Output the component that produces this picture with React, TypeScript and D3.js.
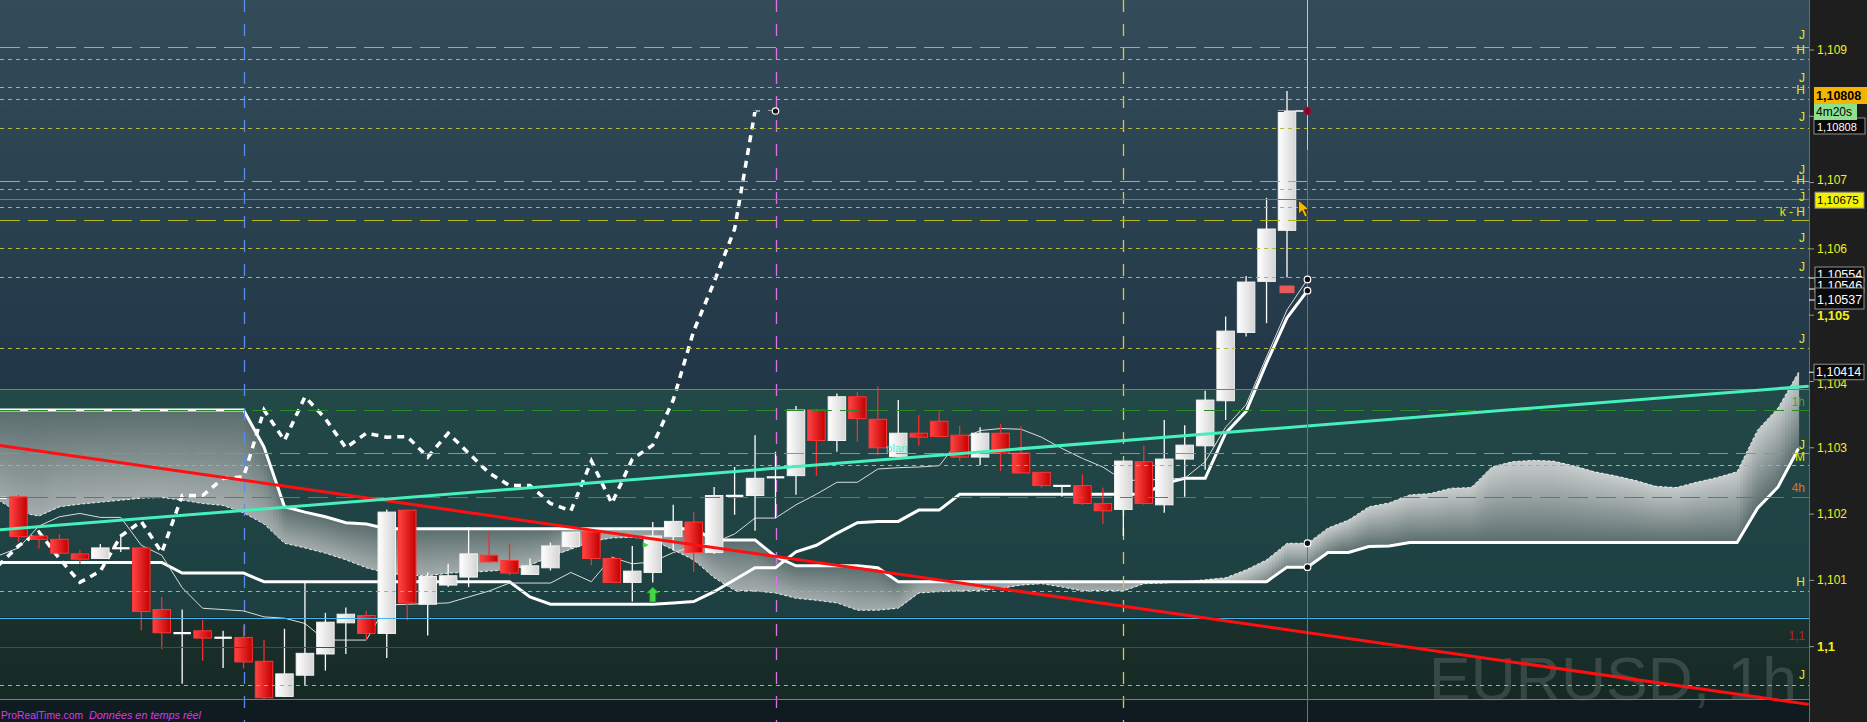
import * as d3 from "d3";

const WIDTH = 1867;
const HEIGHT = 722;
const PLOT_RIGHT = 1809;

// EURUSD 1h, bar 0 = partly cut at the left edge, bar 63 = last bar
const opens = [
  1.10223, 1.10226, 1.10167, 1.10162, 1.1014, 1.10133, 1.10148, 1.10149, 1.10056, 1.1002,
  1.10024, 1.10013, 1.10014, 1.09978, 1.09925, 1.09957, 1.09989, 1.10036, 1.10047, 1.1002,
  1.10206, 1.10064, 1.10093, 1.10105, 1.10138, 1.1013, 1.10109, 1.10119, 1.10151, 1.10173,
  1.10133, 1.10097, 1.10112, 1.10166, 1.10188, 1.10142, 1.10227, 1.10228, 1.10255, 1.10258,
  1.10357, 1.10311, 1.10377, 1.10343, 1.10287, 1.10322, 1.1034, 1.10319, 1.10286, 1.10322,
  1.10292, 1.10263, 1.10242, 1.10243, 1.10216, 1.10207, 1.10279, 1.10214, 1.10283, 1.10303,
  1.10371, 1.10474, 1.10551, 1.10628,
];
const highs = [
  1.10229, 1.10229, 1.10169, 1.1017, 1.10146, 1.10155, 1.10167, 1.10149, 1.10075, 1.10056,
  1.10041, 1.10024, 1.10033, 1.1001, 1.10027, 1.10097, 1.10051, 1.10059, 1.10054, 1.10207,
  1.10206, 1.10112, 1.10125, 1.1018, 1.10173, 1.10155, 1.10133, 1.10157, 1.10173, 1.10173,
  1.10137, 1.10152, 1.10188, 1.10214, 1.10203, 1.10241, 1.10271, 1.10319, 1.10294, 1.10363,
  1.10359, 1.10382, 1.10384, 1.10393, 1.10372, 1.10349, 1.10355, 1.10333, 1.10331, 1.10336,
  1.10333, 1.10263, 1.10243, 1.1026, 1.1024, 1.1028, 1.10303, 1.10342, 1.10334, 1.10386,
  1.10498, 1.10559, 1.10677, 1.10838,
];
const lows = [
  1.1022, 1.10158, 1.10148, 1.10136, 1.10125, 1.10133, 1.10143, 1.10025, 1.09996, 1.09944,
  1.09979, 1.09968, 1.09967, 1.09921, 1.09924, 1.09942, 1.09964, 1.09989, 1.1001, 1.09983,
  1.1004, 1.10017, 1.1009, 1.1009, 1.10127, 1.10108, 1.10109, 1.10115, 1.10148, 1.10123,
  1.10097, 1.10068, 1.10097, 1.10145, 1.10113, 1.1014, 1.10199, 1.10175, 1.10194, 1.10229,
  1.10258, 1.10294, 1.10309, 1.10289, 1.10286, 1.10303, 1.10316, 1.1028, 1.10274, 1.10265,
  1.10262, 1.1024, 1.10226, 1.10214, 1.10185, 1.10167, 1.10214, 1.10202, 1.10226, 1.10267,
  1.10342, 1.10468, 1.10488, 1.10557,
];
const closes = [
  1.10226, 1.10166, 1.10162, 1.10141, 1.10132, 1.10149, 1.10149, 1.10053, 1.10021, 1.10021,
  1.10013, 1.10014, 1.09977, 1.09923, 1.09959, 1.0999, 1.10037, 1.10049, 1.1002, 1.10203,
  1.10066, 1.10106, 1.10107, 1.1014, 1.10128, 1.10111, 1.10122, 1.10152, 1.10173, 1.10133,
  1.10097, 1.10114, 1.10167, 1.10189, 1.10142, 1.10228, 1.10228, 1.10254, 1.10256, 1.10357,
  1.10311, 1.10377, 1.10344, 1.103, 1.10322, 1.10316, 1.10317, 1.10286, 1.10322, 1.10292,
  1.10262, 1.10243, 1.10243, 1.10216, 1.10205, 1.1028, 1.10216, 1.10283, 1.10304, 1.10372,
  1.10476, 1.1055, 1.1063, 1.10808,
];

// Ichimoku lines (bars 0..64)
const tenkan = [
  1.10137, 1.10149, 1.10182, 1.10196, 1.10201, 1.10195, 1.10195, 1.10153, 1.10138, 1.10089,
  1.10058, 1.10056, 1.10054, 1.10045, 1.10043, 1.10035, 1.1001, 1.1001, 1.1001, 1.10063,
  1.10064, 1.10065, 1.10066, 1.10075, 1.10084, 1.10096, 1.10096, 1.10096, 1.10112, 1.10098,
  1.10135, 1.10125, 1.10128, 1.10142, 1.10151, 1.10157, 1.1017, 1.10194, 1.10194, 1.10214,
  1.1023, 1.10248, 1.10248, 1.10268, 1.1027, 1.10271, 1.10273, 1.10312, 1.10326, 1.10329,
  1.10328, 1.10316, 1.10299, 1.10284, 1.10271, 1.10251, 1.10251, 1.10253, 1.10254, 1.10279,
  1.10331, 1.10365, 1.10437, 1.10508, 1.10554,
];
const kijun = [
  1.10127, 1.10127, 1.10127, 1.10127, 1.10127, 1.10127, 1.10127, 1.10127, 1.10127, 1.10111,
  1.10111, 1.10111, 1.10111, 1.10098, 1.10098, 1.10098, 1.10098, 1.10098, 1.10098, 1.10098,
  1.10098, 1.10098, 1.10098, 1.10098, 1.10098, 1.10098, 1.10075, 1.10064, 1.10064, 1.10064,
  1.10064, 1.10064, 1.10064, 1.10066, 1.10068, 1.10083, 1.10101, 1.10119, 1.10119, 1.10143,
  1.10153, 1.10171, 1.10187, 1.10189, 1.10189, 1.10206, 1.10206, 1.1023, 1.1023, 1.1023,
  1.1023, 1.1023, 1.1023, 1.1023, 1.1023, 1.1023, 1.1023, 1.10246, 1.10254, 1.10254,
  1.10322, 1.10355, 1.10428, 1.10496, 1.10537,
];
// cloud spans, bars 0..88 (26 bars projected ahead)
const senkouA = [
  1.10221, 1.10203, 1.10197, 1.10211, 1.10215, 1.10218, 1.10221, 1.10224, 1.10225, 1.10221,
  1.10216, 1.10213, 1.10202, 1.10185, 1.10156, 1.10149, 1.10141, 1.10131, 1.10119, 1.10111,
  1.10108, 1.10107, 1.10111, 1.10112, 1.10114, 1.10116, 1.10123, 1.10136, 1.10147, 1.10159,
  1.10164, 1.10165, 1.10161, 1.10146, 1.10131, 1.10104, 1.10085, 1.10084, 1.10081, 1.10073,
  1.1007, 1.10066, 1.10055, 1.10055, 1.10058, 1.10081, 1.10083, 1.10084, 1.10085, 1.10088,
  1.10093, 1.10095, 1.1009, 1.10084, 1.10085, 1.10084, 1.10095, 1.10096, 1.10098, 1.10101,
  1.10104, 1.10116, 1.10131, 1.10156, 1.10156, 1.10179, 1.10191, 1.10211, 1.10217, 1.10229,
  1.10231, 1.10239, 1.1024, 1.10271, 1.10279, 1.10281, 1.1028, 1.10273, 1.10264, 1.10258,
  1.10251, 1.10242, 1.1024, 1.10248, 1.10255, 1.10264, 1.10327, 1.1036, 1.10414,
];
const senkouB = [
  1.10357, 1.10357, 1.10357, 1.10357, 1.10357, 1.10357, 1.10357, 1.10357, 1.10357, 1.10357,
  1.10357, 1.10357, 1.10357, 1.10301, 1.10211, 1.10203, 1.10196, 1.10187, 1.10185, 1.10178,
  1.10178, 1.10178, 1.10178, 1.10178, 1.10178, 1.10178, 1.10178, 1.10178, 1.10178, 1.10178,
  1.10178, 1.10178, 1.10178, 1.10178, 1.10178, 1.10161, 1.10161, 1.10161, 1.10136, 1.10122,
  1.10122, 1.10122, 1.10122, 1.10119, 1.10098, 1.10098, 1.10098, 1.10098, 1.10098, 1.10098,
  1.10098, 1.10098, 1.10098, 1.10098, 1.10098, 1.10098, 1.10098, 1.10098, 1.10098, 1.10098,
  1.10098, 1.10098, 1.10098, 1.1012, 1.1012, 1.10142, 1.10142, 1.10151, 1.10152, 1.10157,
  1.10157, 1.10157, 1.10157, 1.10157, 1.10157, 1.10157, 1.10157, 1.10157, 1.10157, 1.10157,
  1.10157, 1.10157, 1.10157, 1.10157, 1.10157, 1.10157, 1.10209, 1.10241, 1.10299,
];
// lagging span, bars 0..37
const chikou = [
  1.10122, 1.10152, 1.10173, 1.10133, 1.10097, 1.10114, 1.10167, 1.10189, 1.10142, 1.10228,
  1.10228, 1.10254, 1.10256, 1.10357, 1.10311, 1.10377, 1.10344, 1.103, 1.10322, 1.10316,
  1.10317, 1.10286, 1.10322, 1.10292, 1.10262, 1.10243, 1.10243, 1.10216, 1.10205, 1.1028,
  1.10216, 1.10283, 1.10304, 1.10372, 1.10476, 1.1055, 1.1063, 1.10808,
];

const lastPrice = 1.10808;
const cursorPrice = 1.10675;
const cloudEndPrice = 1.10414;

// drawn levels
const longDashLevels = [1.10905, 1.10703, 1.10644];
const shortDashLevels = [
  1.10886, 1.10844, 1.10826, 1.10783, 1.10691, 1.10663, 1.10602, 1.10558, 1.1045, 1.10274,
  1.10084, 1.09942,
];
const olivePivot = 1.10292;
const greenLevels = [1.10389, 1.09921];
const greenDashLevel = 1.10357;
const orangeDashLevel = 1.10226;
const blueLevel = 1.10044;
const redLevel = 1.1;

const yellowTags: [string, number][] = [
  ["J", 1.10923], ["H", 1.109], ["J", 1.10858], ["H", 1.1084], ["J", 1.10799],
  ["J", 1.10719], ["H", 1.10704], ["J", 1.10678], ["k - H", 1.10656], ["J", 1.10616],
  ["J", 1.10573], ["J", 1.10464], ["J", 1.10304], ["M", 1.10286], ["H", 1.10098],
  ["J", 1.09957],
];
const greenTags: [string, number][] = [["1h", 1.10369]];
const orangeTags: [string, number][] = [["4h", 1.10239]];
const redTags: [string, number][] = [["1,1", 1.10016]];

// trend lines [bar, price]
const planTrend: [number, number][] = [[0, 1.10176], [88.5, 1.10393]];
const downTrend: [number, number][] = [[0, 1.10304], [88.5, 1.09913]];

const sessionBreaks = [12, 38, 55];
const sessionColors = ["#5a8cf0", "#e070e8", "#e8c040"];

// 1,108 sits under the value boxes and is not shown
const priceTicks = [1.109, 1.107, 1.106, 1.105, 1.104, 1.103, 1.102, 1.101, 1.1];
const hiddenTicks = [1.108];
const boldTicks = [1.105, 1.1];
const stackedValues = ["1,10554", "1,10546", "1,10537"];

const signalUpBar = 32;
const signalUpPrice = 1.1009;
const markerBar = 63;
const markerPrice = 1.10539;

const FONT = "'Liberation Sans', Arial, sans-serif";

export default function App() {
  const x = d3.scaleLinear().domain([0, 88]).range([-1.96, 1798.5]);
  const y = d3.scaleLinear().domain([1.1, 1.109]).range([646.7, 50]);
  const bodyW = 17.5;
  const comma = (p: number) => d3.format("~g")(p).replace(".", ",");

  const path = (vals: number[]) =>
    d3.line<number>().x((_, i) => x(i)).y((d) => y(d))(vals) ?? "";
  const trend = (pts: [number, number][]) =>
    d3.line<[number, number]>().x((d) => x(d[0])).y((d) => y(d[1]))(pts) ?? "";

  // cloud fill: thin vertical strips, each shaded from span A (light) towards span B (dark)
  const yAt = (arr: number[], px: number) => {
    const t = Math.max(0, Math.min(x.invert(px), arr.length - 1));
    const i = Math.min(Math.floor(t), arr.length - 2);
    const f = t - i;
    return y(arr[i] + (arr[i + 1] - arr[i]) * f);
  };
  const stripW = 3;
  const cloudStart = Math.max(0, x(0));
  const cloudEnd = x(senkouA.length - 1);
  const strips = d3.range(cloudStart, cloudEnd, stripW).map((sx, k) => {
    const ex = Math.min(sx + stripW, cloudEnd);
    const a0 = yAt(senkouA, sx), a1 = yAt(senkouA, ex);
    const b0 = yAt(senkouB, sx), b1 = yAt(senkouB, ex);
    const am = (a0 + a1) / 2, bm = (b0 + b1) / 2;
    const dir = bm >= am ? 1 : -1;
    const span = Math.max(Math.abs(bm - am), 30);
    const ex2 = ex + 0.6;
    return {
      k,
      bull: dir > 0,
      d: `M${sx},${a0}L${ex2},${a1}L${ex2},${b1}L${sx},${b0}Z`,
      g1: am,
      g2: am + dir * span,
    };
  });

  const hline = (p: number, stroke: string, dash?: string, w = 1, key?: string) => (
    <line key={key ?? `${p}-${stroke}`} x1={0} x2={PLOT_RIGHT} y1={Math.round(y(p)) + 0.5} y2={Math.round(y(p)) + 0.5}
      stroke={stroke} strokeWidth={w} strokeDasharray={dash} />
  );

  const tag = (t: [string, number], fill: string, k: string) => (
    <text key={k} x={1805} y={y(t[1])} fill={fill} fontSize={12} textAnchor="end"
      dominantBaseline="central" fontFamily={FONT}>{t[0]}</text>
  );

  const lastX = x(64);
  const yLast = y(lastPrice);

  return (
    <svg width={WIDTH} height={HEIGHT} style={{ position: "fixed", left: 0, top: 0, background: "#1e1e1e" }}>
      <defs>
        <clipPath id="plot"><rect x={0} y={0} width={PLOT_RIGHT} height={HEIGHT} /></clipPath>
        <linearGradient id="bgTop" x1="0" y1="0" x2="0" y2="1">
          <stop offset="0" stopColor="#344c59" />
          <stop offset="1" stopColor="#213747" />
        </linearGradient>
        <linearGradient id="bgMid" x1="0" y1="0" x2="0" y2="1">
          <stop offset="0" stopColor="#234848" />
          <stop offset="1" stopColor="#1d3f41" />
        </linearGradient>
        <linearGradient id="bgLow" x1="0" y1="0" x2="0" y2="1">
          <stop offset="0" stopColor="#1a302b" />
          <stop offset="1" stopColor="#162925" />
        </linearGradient>
        <linearGradient id="upBody" x1="0" y1="0" x2="1" y2="0">
          <stop offset="0" stopColor="#ffffff" />
          <stop offset="1" stopColor="#d4d4d4" />
        </linearGradient>
        <linearGradient id="downBody" x1="0" y1="0" x2="1" y2="0">
          <stop offset="0" stopColor="#ff4444" />
          <stop offset="1" stopColor="#c40000" />
        </linearGradient>
        {strips.map((s) => (
          <linearGradient key={s.k} id={`cl${s.k}`} gradientUnits="userSpaceOnUse" x1={0} x2={0} y1={s.g1} y2={s.g2}>
            <stop offset="0" stopColor={s.bull ? "#c8cccc" : "#a4acac"} />
            <stop offset="1" stopColor="#5a6d6d" />
          </linearGradient>
        ))}
      </defs>

      <g clipPath="url(#plot)">
        {/* background zones */}
        <rect x={0} y={0} width={PLOT_RIGHT} height={y(greenLevels[0])} fill="url(#bgTop)" />
        <rect x={0} y={y(greenLevels[0])} width={PLOT_RIGHT} height={y(blueLevel) - y(greenLevels[0])} fill="url(#bgMid)" />
        <rect x={0} y={y(blueLevel)} width={PLOT_RIGHT} height={y(greenLevels[1]) - y(blueLevel)} fill="url(#bgLow)" />
        <rect x={0} y={y(greenLevels[1])} width={PLOT_RIGHT} height={HEIGHT - y(greenLevels[1])} fill="#0f1a21" />

        <text x={1797} y={700} textAnchor="end" fontSize={62} fontFamily={FONT} fill="#ffffff" fillOpacity={0.14}
          textLength={368} lengthAdjust="spacingAndGlyphs">
          EURUSD, 1h
        </text>

        {/* cloud */}
        {strips.map((s) => <path key={s.k} d={s.d} fill={`url(#cl${s.k})`} />)}
        <path d={path(senkouA)} fill="none" stroke="#ffffff" strokeWidth={1} strokeDasharray="3,2" strokeOpacity={0.85} />
        <path d={path(senkouB)} fill="none" stroke="#ffffff" strokeWidth={3} />

        {sessionBreaks.map((b, k) => (
          <line key={b} x1={Math.round(x(b)) + 0.5} x2={Math.round(x(b)) + 0.5} y1={0} y2={HEIGHT}
            stroke={sessionColors[k]} strokeWidth={1.3} strokeDasharray="12,12" />
        ))}

        {/* ichimoku lines */}
        <path d={path(kijun)} fill="none" stroke="#ffffff" strokeWidth={3} />
        <path d={path(tenkan)} fill="none" stroke="#dcdcdc" strokeWidth={1} />
        <path d={path(chikou)} fill="none" stroke="#ffffff" strokeWidth={3.5} strokeDasharray="7,6" />
        <line x1={x(37)} x2={x(38)} y1={yLast} y2={yLast} stroke="#ffffff" strokeWidth={1} strokeDasharray="5,8" />

        {/* candles */}
        {opens.map((o, i) => {
          const c = closes[i];
          const up = c >= o;
          const cx = x(i);
          const top = y(Math.max(o, c));
          const bot = y(Math.min(o, c));
          const doji = bot - top < 2.2;
          return (
            <g key={i}>
              <line x1={cx} x2={cx} y1={y(highs[i])} y2={y(lows[i])} stroke={up ? "#ffffff" : "#ee3030"} strokeWidth={1.3} />
              {doji ? (
                <line x1={cx - bodyW / 2} x2={cx + bodyW / 2} y1={(top + bot) / 2} y2={(top + bot) / 2} stroke="#ffffff" strokeWidth={2.2} />
              ) : (
                <rect x={cx - bodyW / 2} y={top} width={bodyW} height={bot - top}
                  fill={up ? "url(#upBody)" : "url(#downBody)"} stroke={up ? "#f2f2f2" : "#ff3636"} strokeWidth={1} />
              )}
            </g>
          );
        })}

        {/* levels, drawn over price */}
        {longDashLevels.map((p) => hline(p, "#b4b818", "20,8"))}
        {shortDashLevels.map((p) => hline(p, "#b6b83c", "4,4"))}
        {hline(olivePivot, "#93a03a", "20,8")}
        {hline(lastPrice, "#a0102e", "12,12")}
        {greenLevels.map((p) => hline(p, "#2cb42c"))}
        {hline(greenDashLevel, "#2a8a2a", "20,8")}
        {hline(orangeDashLevel, "#9a6248", "20,8")}
        {hline(blueLevel, "#46b4e6")}
        {hline(redLevel, "#d01010")}

        <text x={886} y={452} fill="#3ee6b4" fontSize={11.5} fontFamily={FONT} fillOpacity={0.85}>plan</text>

        {/* trend lines */}
        <path d={trend(downTrend)} stroke="#ff1010" strokeWidth={3} fill="none" />
        <path d={trend(planTrend)} stroke="#45f0bc" strokeWidth={3} fill="none" />

        {/* signals */}
        {(() => {
          const ax = x(signalUpBar), ay = y(signalUpPrice);
          return (
            <g>
              <path d={`M${ax},${ay}L${ax + 6},${ay + 6}L${ax + 3},${ay + 6}L${ax + 3},${ay + 15}L${ax - 3},${ay + 15}L${ax - 3},${ay + 6}L${ax - 6},${ay + 6}Z`}
                fill="#44d844" stroke="#1f8a1f" strokeWidth={0.8} />
              <path d={`M${ax - 10},${ay - 45}L${ax - 4},${ay - 42}L${ax - 10},${ay - 39}Z`} fill="#44d844" />
            </g>
          );
        })()}
        <rect x={x(markerBar) - 7.5} y={y(markerPrice) - 3.8} width={15} height={7.6} fill="#e85a5a" />

        {/* crosshair */}
        {hline(cursorPrice, "#b85c5c", undefined, 1, "cross")}
        <line x1={Math.round(lastX) + 0.5} x2={Math.round(lastX) + 0.5} y1={0} y2={150} stroke="#f0b4b4" strokeWidth={1} />
        <line x1={Math.round(lastX) + 0.5} x2={Math.round(lastX) + 0.5} y1={150} y2={HEIGHT} stroke="#b05858" strokeWidth={1} />

        {/* end points */}
        <line x1={x(63) + bodyW / 2} x2={lastX} y1={yLast} y2={yLast} stroke="#ffffff" strokeWidth={1.5} />
        <circle cx={lastX} cy={yLast} r={3.6} fill="#7a0a2e" stroke="#a0103a" strokeWidth={1.2} />
        <circle cx={x(38)} cy={yLast} r={3.2} fill="#111" stroke="#ffffff" strokeWidth={1.2} />
        {[tenkan[64], kijun[64], senkouA[64], senkouB[64]].map((p, k) => (
          <circle key={k} cx={lastX} cy={y(p)} r={3.3} fill="#111" stroke="#ffffff" strokeWidth={1.2} />
        ))}
        <path d={`M${lastX - 9},${y(cursorPrice) + 1}l0,14l3.5,-3.5l3,6.5l2.5,-1.2l-3,-6.3l5,0Z`}
          fill="#f5b800" stroke="#222" strokeWidth={0.8} />

        {/* level tags */}
        {yellowTags.map((t, k) => tag(t, "#e6e61e", `y${k}`))}
        {greenTags.map((t, k) => tag(t, "#3aa83a", `g${k}`))}
        {orangeTags.map((t, k) => tag(t, "#e0702e", `o${k}`))}
        {redTags.map((t, k) => tag(t, "#d41414", `r${k}`))}

        <text x={1} y={719} fontSize={11} fontFamily={FONT} fill="#d040e0" textLength={82} lengthAdjust="spacingAndGlyphs">ProRealTime.com</text>
        <text x={89} y={719} fontSize={11} fontFamily={FONT} fontStyle="italic" fill="#d040e0" textLength={112} lengthAdjust="spacingAndGlyphs">Données en temps réel</text>
      </g>

      {/* price axis */}
      <rect x={PLOT_RIGHT} y={0} width={WIDTH - PLOT_RIGHT} height={HEIGHT} fill="#1e1e1e" />
      <line x1={PLOT_RIGHT + 0.5} x2={PLOT_RIGHT + 0.5} y1={0} y2={HEIGHT} stroke="#6a6a6a" />
      {hiddenTicks.map((p) => (
        <line key={p} x1={PLOT_RIGHT} x2={PLOT_RIGHT + 5} y1={y(p)} y2={y(p)} stroke="#9a9a9a" />
      ))}
      {priceTicks.map((p) => {
        const bold = boldTicks.includes(p);
        const nudge = p === 1.104 ? 2 : p === 1.107 ? -2.5 : 0;
        return (
          <g key={p}>
            <line x1={PLOT_RIGHT} x2={PLOT_RIGHT + 5} y1={y(p)} y2={y(p)} stroke="#9a9a9a" />
            <text x={PLOT_RIGHT + 8} y={y(p) + nudge} dominantBaseline="central" fontFamily={FONT}
              fontSize={bold ? 13 : 12} fontWeight={bold ? "bold" : "normal"} fill="#f0f020">
              {comma(p)}
            </text>
          </g>
        );
      })}

      {/* value boxes */}
      <rect x={1814} y={yLast + 7} width={51} height={16} fill="#0a0a0a" stroke="#909090" />
      <text x={1817} y={yLast + 16.5} dominantBaseline="central" fontSize={11} fontFamily={FONT} fill="#ffffff">{comma(lastPrice)}</text>
      <rect x={1814} y={yLast - 24} width={60} height={17} fill="#f4b400" />
      <text x={1816} y={yLast - 15.3} dominantBaseline="central" fontSize={12.5} fontWeight="bold" fontFamily={FONT} fill="#000">{comma(lastPrice)}</text>
      <rect x={1814} y={yLast - 7} width={43} height={16} fill="#8ee08e" />
      <text x={1816} y={yLast + 1} dominantBaseline="central" fontSize={12} fontFamily={FONT} fill="#000">4m20s</text>

      <rect x={1815} y={y(cursorPrice) - 7} width={49} height={16} fill="#f2f200" stroke="#888" />
      <text x={1817} y={y(cursorPrice) + 1} dominantBaseline="central" fontSize={11.5} fontFamily={FONT} fill="#000">{comma(cursorPrice)}</text>

      {stackedValues.map((s, k) => {
        const top = 267 + k * 10.5;
        return (
          <g key={s}>
            <line x1={PLOT_RIGHT} x2={1815} y1={top + 11 + k * 0.5} y2={top + 11 + k * 0.5} stroke="#ffffff" />
            <rect x={1815} y={top} width={49} height={k === 2 ? 21 : 15} fill="#0a0a0a" stroke="#909090" />
            <text x={1817} y={top + (k === 2 ? 12 : 8)} dominantBaseline="central" fontSize={12.5} fontFamily={FONT} fill="#ffffff">{s}</text>
          </g>
        );
      })}

      <line x1={PLOT_RIGHT} x2={1815} y1={y(cloudEndPrice)} y2={y(cloudEndPrice)} stroke="#ffffff" />
      <rect x={1814} y={y(cloudEndPrice) - 8} width={50} height={15.5} fill="#0a0a0a" stroke="#909090" />
      <text x={1816} y={y(cloudEndPrice) - 0.5} dominantBaseline="central" fontSize={12.5} fontFamily={FONT} fill="#ffffff">{comma(cloudEndPrice)}</text>
    </svg>
  );
}
